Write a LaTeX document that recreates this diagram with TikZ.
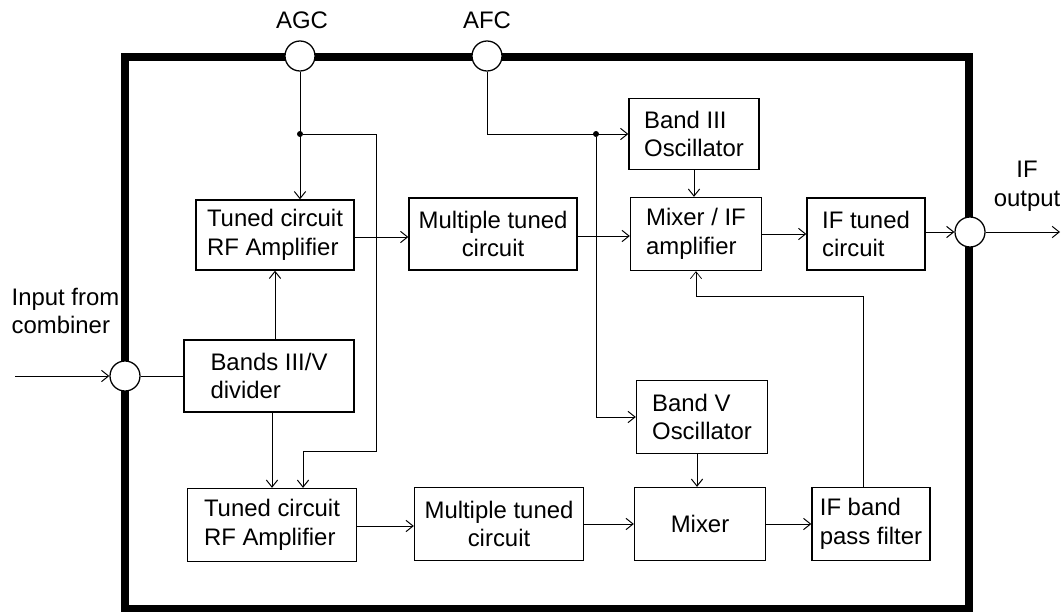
\documentclass[tikz,border=0pt]{standalone}
\usepackage{fontspec}
\setmainfont{Liberation Sans}
\usetikzlibrary{arrows.meta}
\begin{document}
\begin{tikzpicture}[x=0.025cm,y=-0.025cm,every node/.style={inner sep=1pt},font=\fontsize{17}{20.5}\selectfont]
\tikzstyle{arrow}=[draw,line width=0.7pt,-{Straight Barb[length=5pt,width=8pt]}]
\tikzstyle{wire}=[draw,line width=0.7pt]
\tikzstyle{block}=[draw,line width=0.9pt,align=left]
\tikzstyle{port}=[draw,circle,fill=white,line width=0.9pt,minimum size=0.75cm,inner sep=0pt]
\tikzstyle{dot}=[circle,fill,minimum size=0.15cm,inner sep=0pt]
\useasboundingbox (0,0) rectangle (1064,611);
\draw[line width=5.7pt] (125,57) rectangle (969,609);

\node[port](agc) at (300,56){};
\node[port](afc) at (487,56){};
\node[port](inp) at (125,376){};
\node[port](ifo) at (970,232){};
\node(agclab) at (302,20){AGC};
\node(afclab) at (487,20){AFC};
\node[align=center](outlab) at (1027,186){IF\\output};
\node[align=left,anchor=west](inlab) at (10,311){Input from\\combiner};

\node[block,minimum width=3.95cm,minimum height=1.75cm](rfa1) at (275,235){Tuned circuit\\RF Amplifier};
\node[block,align=center,minimum width=4.2cm,minimum height=1.8cm](mtc1) at (493,234){Multiple tuned\\circuit};
\node[block,minimum width=3.25cm,minimum height=1.775cm](osc3) at (694,134){Band III\\Oscillator};
\node[block,minimum width=3.275cm,minimum height=1.825cm](mix1) at (696,234){Mixer / IF\\amplifier};
\node[block,minimum width=2.95cm,minimum height=1.8cm](ift) at (866,234){IF tuned\\circuit};

\node[block,minimum width=4.25cm,minimum height=1.8cm](div) at (269,376){Bands III/V\\divider};
\node[block,minimum width=3.275cm,minimum height=1.825cm](osc5) at (702,417){Band V\\Oscillator};

\node[block,minimum width=4.225cm,minimum height=1.825cm](rfa2) at (272,525){Tuned circuit\\RF Amplifier};
\node[block,align=center,minimum width=4.225cm,minimum height=1.825cm](mtc2) at (499,524){Multiple tuned\\circuit};
\node[block,align=center,minimum width=3.275cm,minimum height=1.825cm](mix2) at (700,524){Mixer};
\node[block,minimum width=2.95cm,minimum height=1.825cm](bpf) at (871,524){IF band\\pass filter};

\node[dot](j1) at (agc |- osc3){};
\node[dot](j2) at (596,134){};
\coordinate(c1) at (376,451);
\coordinate(c2) at (696,296);
\coordinate(inend) at (15,376);
\coordinate(outend) at (1060,232);

\draw[arrow] (agc) -- (agc |- rfa1.north);
\draw[arrow] (j1) -| (c1) -| ([xshift=0.775cm]rfa2.north);
\draw[arrow] (afc) |- (osc3);
\draw[arrow] (j2) |- (osc5);
\draw[arrow] (inend) -- (inp);
\draw[wire] (inp) -- (div);
\draw[arrow] (rfa1 |- div.north) -- (rfa1.south);
\draw[arrow] (rfa2 |- div.south) -- (rfa2.north);
\draw[arrow] (rfa1.east |- 0,237) -- (mtc1.west |- 0,237);
\draw[arrow] (mtc1.east |- 0,236) -- (mix1.west |- 0,236);
\draw[arrow] (osc3) -- (osc3 |- mix1.north);
\draw[arrow] (mix1) -- (ift);
\draw[arrow] (ift.east |- ifo) -- (ifo);
\draw[arrow] (ifo) -- (outend);
\draw[arrow] (rfa2.east |- 0,526) -- (mtc2.west |- 0,526);
\draw[arrow] (mtc2) -- (mix2);
\draw[arrow] (osc5.south -| 697,0) -- (mix2.north -| 697,0);
\draw[arrow] (mix2) -- (bpf);
\draw[arrow,line width=0.5pt] ([xshift=-0.2cm]bpf.north) |- (c2) -- (mix1.south);
\end{tikzpicture}
\end{document}
